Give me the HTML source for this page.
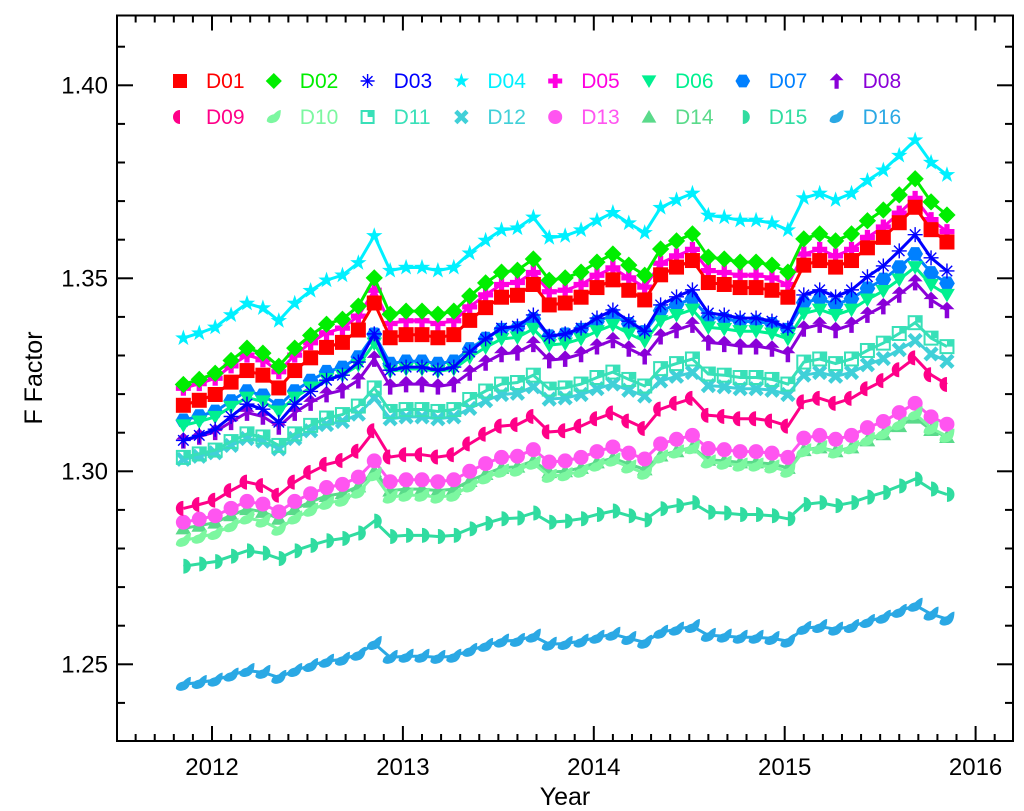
<!DOCTYPE html>
<html><head><meta charset="utf-8"><style>
html,body{margin:0;padding:0;background:#fff;}
svg{display:block;font-family:"Liberation Sans",Arial,sans-serif;}
</style></head><body>
<svg id="chart" width="1024" height="811" viewBox="0 0 1024 811"></svg>
<script>
const startYear = 2011.85;
const stepYear = 1/12;
const seriesNames = ["D01","D02","D03","D04","D05","D06","D07","D08","D09","D10","D11","D12","D13","D14","D15","D16"];
const yTicks = [1.25,1.30,1.35,1.40];
const yTickLabels = ["1.25","1.30","1.35","1.40"];
const xTicks = [2012,2013,2014,2015,2016];
const xTickLabels = ["2012","2013","2014","2015","2016"];
const D01 = [1.3171,1.3184,1.3199,1.3231,1.3261,1.3249,1.3216,1.3261,1.3294,1.3321,1.3334,1.3366,1.3436,1.3346,1.3354,1.3354,1.3346,1.3354,1.3391,1.3424,1.3451,1.3456,1.3484,1.3431,1.3436,1.3451,1.3476,1.3496,1.3469,1.3444,1.3509,1.3529,1.3546,1.3489,1.3484,1.3476,1.3476,1.3469,1.3451,1.3534,1.3546,1.3529,1.3546,1.3579,1.3606,1.3644,1.3684,1.3626,1.3594];
const D02 = [1.3225,1.3238,1.3254,1.3287,1.3319,1.3306,1.3272,1.3319,1.3352,1.3381,1.3394,1.3428,1.3501,1.3407,1.3415,1.3415,1.3407,1.3415,1.3454,1.3488,1.3516,1.3521,1.3550,1.3495,1.3501,1.3516,1.3542,1.3563,1.3534,1.3508,1.3576,1.3597,1.3615,1.3555,1.3550,1.3542,1.3542,1.3534,1.3516,1.3602,1.3615,1.3597,1.3615,1.3649,1.3677,1.3716,1.3758,1.3698,1.3664];
const D03 = [1.3080,1.3093,1.3109,1.3142,1.3174,1.3161,1.3127,1.3174,1.3207,1.3236,1.3249,1.3283,1.3356,1.3262,1.3270,1.3270,1.3262,1.3270,1.3309,1.3343,1.3371,1.3376,1.3405,1.3350,1.3356,1.3371,1.3397,1.3418,1.3389,1.3363,1.3431,1.3452,1.3470,1.3410,1.3405,1.3397,1.3397,1.3389,1.3371,1.3457,1.3470,1.3452,1.3470,1.3504,1.3532,1.3571,1.3613,1.3553,1.3519];
const D04 = [1.3345,1.3358,1.3373,1.3405,1.3435,1.3423,1.3390,1.3435,1.3468,1.3495,1.3508,1.3540,1.3610,1.3520,1.3528,1.3528,1.3520,1.3528,1.3565,1.3598,1.3625,1.3630,1.3658,1.3605,1.3610,1.3625,1.3650,1.3670,1.3643,1.3618,1.3683,1.3703,1.3720,1.3663,1.3658,1.3650,1.3650,1.3643,1.3625,1.3708,1.3720,1.3703,1.3720,1.3753,1.3780,1.3818,1.3858,1.3800,1.3768];
const D05 = [1.3215,1.3227,1.3241,1.3273,1.3301,1.3289,1.3258,1.3301,1.3333,1.3359,1.3371,1.3402,1.3469,1.3383,1.3390,1.3390,1.3383,1.3390,1.3426,1.3457,1.3484,1.3489,1.3515,1.3465,1.3469,1.3484,1.3508,1.3527,1.3501,1.3477,1.3539,1.3558,1.3575,1.3520,1.3515,1.3508,1.3508,1.3501,1.3484,1.3563,1.3575,1.3558,1.3575,1.3606,1.3633,1.3669,1.3707,1.3652,1.3621];
const D06 = [1.3119,1.3129,1.3141,1.3167,1.3191,1.3181,1.3155,1.3191,1.3217,1.3239,1.3249,1.3275,1.3331,1.3259,1.3265,1.3265,1.3259,1.3265,1.3295,1.3321,1.3343,1.3347,1.3369,1.3327,1.3331,1.3343,1.3363,1.3379,1.3357,1.3337,1.3389,1.3405,1.3419,1.3373,1.3369,1.3363,1.3363,1.3357,1.3343,1.3409,1.3419,1.3405,1.3419,1.3445,1.3467,1.3497,1.3529,1.3483,1.3457];
const D07 = [1.3132,1.3143,1.3155,1.3182,1.3208,1.3197,1.3170,1.3208,1.3235,1.3258,1.3269,1.3296,1.3355,1.3279,1.3285,1.3285,1.3279,1.3285,1.3317,1.3344,1.3367,1.3371,1.3395,1.3350,1.3355,1.3367,1.3388,1.3405,1.3382,1.3361,1.3416,1.3432,1.3447,1.3399,1.3395,1.3388,1.3388,1.3382,1.3367,1.3437,1.3447,1.3432,1.3447,1.3474,1.3497,1.3529,1.3563,1.3514,1.3487];
const D08 = [1.3080,1.3090,1.3102,1.3128,1.3152,1.3142,1.3116,1.3152,1.3178,1.3200,1.3210,1.3236,1.3292,1.3220,1.3226,1.3226,1.3220,1.3226,1.3256,1.3282,1.3304,1.3308,1.3330,1.3288,1.3292,1.3304,1.3324,1.3340,1.3318,1.3298,1.3350,1.3366,1.3380,1.3334,1.3330,1.3324,1.3324,1.3318,1.3304,1.3370,1.3380,1.3366,1.3380,1.3406,1.3428,1.3458,1.3490,1.3444,1.3418];
const D09 = [1.2904,1.2914,1.2925,1.2950,1.2972,1.2963,1.2938,1.2972,1.2997,1.3018,1.3028,1.3052,1.3105,1.3037,1.3043,1.3043,1.3037,1.3043,1.3071,1.3096,1.3117,1.3121,1.3142,1.3102,1.3105,1.3117,1.3136,1.3151,1.3130,1.3111,1.3161,1.3176,1.3189,1.3145,1.3142,1.3136,1.3136,1.3130,1.3117,1.3180,1.3189,1.3176,1.3189,1.3214,1.3235,1.3263,1.3294,1.3250,1.3225];
const D10 = [1.2821,1.2829,1.2839,1.2859,1.2879,1.2871,1.2850,1.2879,1.2899,1.2917,1.2925,1.2946,1.2991,1.2933,1.2938,1.2938,1.2933,1.2938,1.2962,1.2983,1.3000,1.3003,1.3021,1.2987,1.2991,1.3000,1.3016,1.3029,1.3011,1.2995,1.3037,1.3050,1.3061,1.3024,1.3021,1.3016,1.3016,1.3011,1.3000,1.3053,1.3061,1.3050,1.3061,1.3082,1.3099,1.3123,1.3149,1.3112,1.3091];
const D11 = [1.3036,1.3045,1.3055,1.3077,1.3097,1.3089,1.3067,1.3097,1.3119,1.3138,1.3147,1.3169,1.3216,1.3155,1.3160,1.3160,1.3155,1.3160,1.3186,1.3208,1.3226,1.3230,1.3249,1.3213,1.3216,1.3226,1.3243,1.3257,1.3238,1.3221,1.3266,1.3279,1.3291,1.3252,1.3249,1.3243,1.3243,1.3238,1.3226,1.3283,1.3291,1.3279,1.3291,1.3313,1.3332,1.3357,1.3385,1.3345,1.3323];
const D12 = [1.3031,1.3039,1.3048,1.3067,1.3085,1.3078,1.3058,1.3085,1.3105,1.3121,1.3129,1.3148,1.3190,1.3136,1.3141,1.3141,1.3136,1.3141,1.3163,1.3183,1.3199,1.3202,1.3219,1.3187,1.3190,1.3199,1.3214,1.3226,1.3210,1.3195,1.3234,1.3246,1.3256,1.3222,1.3219,1.3214,1.3214,1.3210,1.3199,1.3249,1.3256,1.3246,1.3256,1.3276,1.3292,1.3315,1.3339,1.3304,1.3285];
const D13 = [1.2868,1.2876,1.2885,1.2904,1.2922,1.2915,1.2895,1.2922,1.2942,1.2958,1.2966,1.2985,1.3027,1.2973,1.2978,1.2978,1.2973,1.2978,1.3000,1.3020,1.3036,1.3039,1.3056,1.3024,1.3027,1.3036,1.3051,1.3063,1.3047,1.3032,1.3071,1.3083,1.3093,1.3059,1.3056,1.3051,1.3051,1.3047,1.3036,1.3086,1.3093,1.3083,1.3093,1.3113,1.3129,1.3152,1.3176,1.3141,1.3122];
const D14 = [1.2852,1.2859,1.2867,1.2886,1.2902,1.2895,1.2877,1.2902,1.2921,1.2936,1.2943,1.2961,1.3000,1.2950,1.2954,1.2954,1.2950,1.2954,1.2975,1.2993,1.3009,1.3012,1.3027,1.2998,1.3000,1.3009,1.3023,1.3034,1.3019,1.3005,1.3041,1.3052,1.3062,1.3030,1.3027,1.3023,1.3023,1.3019,1.3009,1.3055,1.3062,1.3052,1.3062,1.3080,1.3096,1.3117,1.3139,1.3107,1.3089];
const D15 = [1.2754,1.2760,1.2766,1.2780,1.2794,1.2788,1.2774,1.2794,1.2808,1.2820,1.2826,1.2840,1.2871,1.2831,1.2834,1.2834,1.2831,1.2834,1.2851,1.2865,1.2877,1.2879,1.2892,1.2868,1.2871,1.2877,1.2888,1.2897,1.2885,1.2874,1.2903,1.2911,1.2919,1.2894,1.2892,1.2888,1.2888,1.2885,1.2877,1.2914,1.2919,1.2911,1.2919,1.2933,1.2945,1.2962,1.2980,1.2954,1.2940];
const D16 = [1.2448,1.2453,1.2459,1.2472,1.2484,1.2479,1.2466,1.2484,1.2497,1.2508,1.2513,1.2526,1.2554,1.2518,1.2521,1.2521,1.2518,1.2521,1.2536,1.2549,1.2560,1.2562,1.2573,1.2552,1.2554,1.2560,1.2570,1.2578,1.2567,1.2557,1.2583,1.2591,1.2598,1.2575,1.2573,1.2570,1.2570,1.2567,1.2560,1.2593,1.2598,1.2591,1.2598,1.2611,1.2622,1.2637,1.2653,1.2630,1.2617];

const allSeries = [D01,D02,D03,D04,D05,D06,D07,D08,D09,D10,D11,D12,D13,D14,D15,D16];
const colors = ["#ff0000","#00ee00","#0000ff","#00f0ff","#ff00e0","#00f090","#0080ff","#8a00d8","#ff0088","#7cf7a0","#38e0b8","#40d0d8","#ff55f0","#5ada8a","#30dca0","#2aa8e4"];
const shapes = ["square","diamond","asterisk","star","plus","tridown","hexagon","arrow","halfleft","leaf2","opensq","xcross","circle","triup","halfright","leaf"];

const NS="http://www.w3.org/2000/svg";
const svg=document.getElementById('chart');
const L=117,R=1013,T=15.5,B=741;
function xs(t){return 212+(t-2012)*190.9;}
function ys(v){return 85.3+(1.40-v)*3860;}
function mk(tag,attrs,parent){const e=document.createElementNS(NS,tag);for(const k in attrs)e.setAttribute(k,attrs[k]);(parent||svg).appendChild(e);return e;}

const frame=mk('rect',{x:L,y:T,width:R-L,height:B-T,fill:'none',stroke:'#000','stroke-width':2});



const tickG=mk('g',{stroke:'#000','stroke-width':2});


for(let v=1.23;v<=1.4201;v+=0.01){
  const y=ys(v); if(y<T||y>B)continue;
  const major=Math.abs(Math.round(v*100)%5)===0;
  const len=major?16:8;
  mk('line',{x1:L,x2:L+len,y1:y,y2:y},tickG);
  mk('line',{x1:R,x2:R-len,y1:y,y2:y},tickG);
}
for(let i=-5;i<=42;i++){
  const t=2012+i/10;const x=xs(t); if(x<L||x>R)continue;
  const major=i%10===0;const len=major?15:7;
  mk('line',{x1:x,x2:x,y1:B,y2:B-len},tickG);
  mk('line',{x1:x,x2:x,y1:T,y2:T+len},tickG);
}
yTicks.forEach((v,i)=>{
  const t=mk('text',{x:108,y:ys(v)+8,'text-anchor':'end','font-size':24,fill:'#000'});
  t.textContent=yTickLabels[i];
  
  
});
xTicks.forEach((v,i)=>{
  const t=mk('text',{x:xs(v),y:775,'text-anchor':'middle','font-size':24,fill:'#000'});
  t.textContent=xTickLabels[i];
  
  
});
const xt=mk('text',{x:565,y:805,'text-anchor':'middle','font-size':25,fill:'#000'});
xt.textContent='Year';


const yt=mk('text',{x:0,y:0,'text-anchor':'middle','font-size':25,fill:'#000',transform:'translate(42,378) rotate(-90)'});
yt.textContent='F Factor';



function marker(shape,x,y,c,g,s){
  s=s||7.5;
  const pts=a=>a.map(p=>(x+p[0]*s)+','+(y+p[1]*s)).join(' ');
  switch(shape){
    case 'square': return mk('rect',{x:x-s,y:y-s,width:2*s,height:2*s,fill:c},g);
    case 'diamond': return mk('polygon',{points:pts([[0,-1.15],[1.15,0],[0,1.15],[-1.15,0]]),fill:c},g);
    case 'asterisk': return mk('path',{d:`M${x-s} ${y}H${x+s}M${x} ${y-s}V${y+s}M${x-s*.7} ${y-s*.7}L${x+s*.7} ${y+s*.7}M${x-s*.7} ${y+s*.7}L${x+s*.7} ${y-s*.7}`,stroke:c,'stroke-width':1.4,fill:'none'},g);
    case 'star': {const a=[];for(let k=0;k<10;k++){const r=k%2?0.45:1.15;const an=-Math.PI/2+k*Math.PI/5;a.push([r*Math.cos(an),r*Math.sin(an)]);}return mk('polygon',{points:pts(a),fill:c},g);}
    case 'plus': return mk('polygon',{points:pts([[-0.35,-1],[0.35,-1],[0.35,-0.35],[1,-0.35],[1,0.35],[0.35,0.35],[0.35,1],[-0.35,1],[-0.35,0.35],[-1,0.35],[-1,-0.35],[-0.35,-0.35]]),fill:c},g);
    case 'tridown': return mk('polygon',{points:pts([[-1.05,-0.8],[1.05,-0.8],[0,1]]),fill:c},g);
    case 'triup': return mk('polygon',{points:pts([[-1.05,0.8],[1.05,0.8],[0,-1]]),fill:c},g);
    case 'hexagon': {const a=[];for(let k=0;k<6;k++){const an=k*Math.PI/3;a.push([1.05*Math.cos(an),1.05*Math.sin(an)]);}return mk('polygon',{points:pts(a),fill:c},g);}
    case 'arrow': return mk('polygon',{points:pts([[0,-1.1],[1,-0.1],[0.3,-0.1],[0.3,1.1],[-0.3,1.1],[-0.3,-0.1],[-1,-0.1]]),fill:c},g);
    case 'halfleft': return mk('path',{d:`M${x} ${y-s}A${s} ${s} 0 0 0 ${x} ${y+s}Z`,fill:c},g);
    case 'halfright': return mk('path',{d:`M${x} ${y-s}A${s} ${s} 0 0 1 ${x} ${y+s}Z`,fill:c},g);
    case 'leaf': case 'leaf2': return mk('path',{d:`M${x-s} ${y+s*0.6}Q${x-s} ${y-s*0.2} ${x} ${y-s*0.4}Q${x+s*0.6} ${y-s} ${x+s} ${y-s}Q${x+s} ${y+s*0.6} ${x} ${y+s*0.8}Q${x-s*0.6} ${y+s} ${x-s} ${y+s*0.6}Z`,fill:c},g);
    case 'opensq': {const gg=mk('g',{},g);mk('rect',{x:x-s+1,y:y-s+1,width:2*s-2,height:2*s-2,fill:'none',stroke:c,'stroke-width':2},gg);mk('rect',{x:x,y:y-s+1,width:s-1,height:s-1,fill:c},gg);return gg;}
    case 'xcross': return mk('path',{d:`M${x-s*.8} ${y-s*.8}L${x+s*.8} ${y+s*.8}M${x-s*.8} ${y+s*.8}L${x+s*.8} ${y-s*.8}`,stroke:c,'stroke-width':4.5,fill:'none'},g);
    case 'circle': return mk('circle',{cx:x,cy:y,r:s,fill:c},g);
  }
}

for(let si=allSeries.length-1;si>=0;si--){
  const data=allSeries[si];
  const g=mk('g',{});
  
  
  const d=data.map((v,i)=>(i?'L':'M')+xs(startYear+i*stepYear).toFixed(1)+' '+ys(v).toFixed(1)).join('');
  const line=mk('path',{d:d,fill:'none',stroke:colors[si],'stroke-width':3},g);
  
  
  data.forEach((v,i)=>{
    const m=marker(shapes[si],xs(startYear+i*stepYear),ys(v),colors[si],g);
    
    
  });
}

const lg=mk('g',{});


seriesNames.forEach((n,i)=>{
  const row=Math.floor(i/8),col=i%8;
  const x=180+col*93.8,y=81+row*36;
  const e=mk('g',{},lg);
  
  
  marker(shapes[i],x,y,colors[i],e,7);
  const t=mk('text',{x:x+26,y:y+7,'font-size':21,fill:colors[i]},e);
  t.textContent=n;
});
</script>
</body></html>
